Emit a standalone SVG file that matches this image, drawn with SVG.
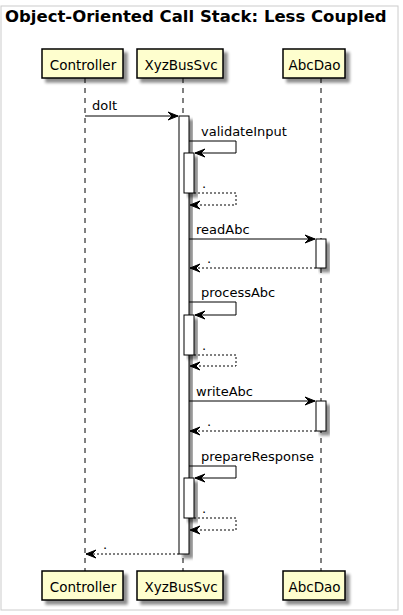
<svg xmlns="http://www.w3.org/2000/svg" width="403" height="615" viewBox="0 0 403 615">
  <style>
    .title { font-family: "DejaVu Sans", sans-serif; font-size: 16.5px; font-weight: bold; fill: #000; }
    .pname { font-family: "DejaVu Sans", sans-serif; font-size: 13.5px; fill: #000; }
    .lbl { font-family: "DejaVu Sans", sans-serif; font-size: 13px; fill: #000; }
    .box { fill: #FEFECE; stroke: #000; stroke-width: 1.5; }
    .act { fill: #FFFFFF; stroke: #000; stroke-width: 1; }
    .life { stroke: #000; stroke-width: 1; stroke-dasharray: 5,5; fill: none; }
    .msg { stroke: #000; stroke-width: 1; fill: none; }
    .ret { stroke: #000; stroke-width: 1; stroke-dasharray: 2,2; fill: none; }
  </style>
  <defs>
    <filter id="shadow" x="-20%" y="-20%" width="160%" height="160%">
      <feGaussianBlur in="SourceAlpha" stdDeviation="1.5"/>
      <feOffset dx="4" dy="4" result="off"/>
      <feComponentTransfer><feFuncA type="linear" slope="0.45"/></feComponentTransfer>
      <feMerge><feMergeNode/><feMergeNode in="SourceGraphic"/></feMerge>
    </filter>
    <marker id="head" viewBox="-11 -5 12 10" refX="0" refY="0" markerWidth="12" markerHeight="10" markerUnits="userSpaceOnUse" orient="auto">
      <path d="M0,0 L-10,-4 L-6,0 L-10,4 Z" fill="#000" stroke="#000" stroke-width="1"/>
    </marker>
  </defs>

  <rect x="1" y="6" width="397" height="604" fill="#FFFFFF" stroke="#CCCCCC" stroke-width="1"/>
  <text class="title" x="5" y="21.5">Object-Oriented Call Stack: Less Coupled</text>

  <!-- lifelines -->
  <g id="lifelines">
    <line class="life" x1="85" y1="78" x2="85" y2="571"/>
    <line class="life" x1="183" y1="78" x2="183" y2="571"/>
    <line class="life" x1="321" y1="78" x2="321" y2="571"/>
  </g>

  <!-- participants, top and bottom -->
  <g id="controller">
    <rect class="box" x="42" y="49" width="81" height="29" filter="url(#shadow)"/>
    <text class="pname" x="83" y="70" text-anchor="middle">Controller</text>
    <rect class="box" x="42" y="571" width="81" height="29" filter="url(#shadow)"/>
    <text class="pname" x="83" y="592" text-anchor="middle">Controller</text>
  </g>
  <g id="xyzbussvc">
    <rect class="box" x="137" y="49" width="86" height="29" filter="url(#shadow)"/>
    <text class="pname" x="181" y="70" text-anchor="middle">XyzBusSvc</text>
    <rect class="box" x="137" y="571" width="86" height="29" filter="url(#shadow)"/>
    <text class="pname" x="181" y="592" text-anchor="middle">XyzBusSvc</text>
  </g>
  <g id="abcdao">
    <rect class="box" x="283" y="49" width="62" height="29" filter="url(#shadow)"/>
    <text class="pname" x="314.5" y="70" text-anchor="middle">AbcDao</text>
    <rect class="box" x="283" y="571" width="62" height="29" filter="url(#shadow)"/>
    <text class="pname" x="314.5" y="592" text-anchor="middle">AbcDao</text>
  </g>

  <!-- activation bars -->
  <g id="activations">
    <rect class="act" x="179" y="116" width="10" height="438" filter="url(#shadow)"/>
    <rect class="act" x="184" y="153" width="10" height="40" filter="url(#shadow)"/>
    <rect class="act" x="316" y="239" width="10" height="29" filter="url(#shadow)"/>
    <rect class="act" x="184" y="315" width="10" height="40" filter="url(#shadow)"/>
    <rect class="act" x="316" y="401" width="10" height="30" filter="url(#shadow)"/>
    <rect class="act" x="184" y="478" width="10" height="40" filter="url(#shadow)"/>
  </g>

  <!-- messages -->
  <g id="connectors">
    <line class="msg" x1="85" y1="116" x2="178" y2="116" marker-end="url(#head)"/>
    <text class="lbl" x="92" y="110">doIt</text>

    <polyline class="msg" points="189,141 236,141 236,153 195,153" marker-end="url(#head)"/>
    <text class="lbl" x="201" y="136">validateInput</text>
    <polyline class="ret" points="194,193 236,193 236,205 190,205" marker-end="url(#head)"/>
    <text class="lbl" x="202" y="188">.</text>

    <line class="msg" x1="189" y1="239" x2="315" y2="239" marker-end="url(#head)"/>
    <text class="lbl" x="196" y="234">readAbc</text>
    <line class="ret" x1="316" y1="268" x2="190" y2="268" marker-end="url(#head)"/>
    <text class="lbl" x="207" y="263">.</text>

    <polyline class="msg" points="189,302 236,302 236,315 195,315" marker-end="url(#head)"/>
    <text class="lbl" x="201" y="297">processAbc</text>
    <polyline class="ret" points="194,355 236,355 236,366 190,366" marker-end="url(#head)"/>
    <text class="lbl" x="202" y="350">.</text>

    <line class="msg" x1="189" y1="401" x2="315" y2="401" marker-end="url(#head)"/>
    <text class="lbl" x="196" y="396">writeAbc</text>
    <line class="ret" x1="316" y1="431" x2="190" y2="431" marker-end="url(#head)"/>
    <text class="lbl" x="207" y="426">.</text>

    <polyline class="msg" points="189,466 236,466 236,478 195,478" marker-end="url(#head)"/>
    <text class="lbl" x="201" y="461">prepareResponse</text>
    <polyline class="ret" points="194,518 236,518 236,530 190,530" marker-end="url(#head)"/>
    <text class="lbl" x="202" y="513">.</text>

    <line class="ret" x1="179" y1="554" x2="86" y2="554" marker-end="url(#head)"/>
    <text class="lbl" x="103" y="549">.</text>
  </g>
</svg>
